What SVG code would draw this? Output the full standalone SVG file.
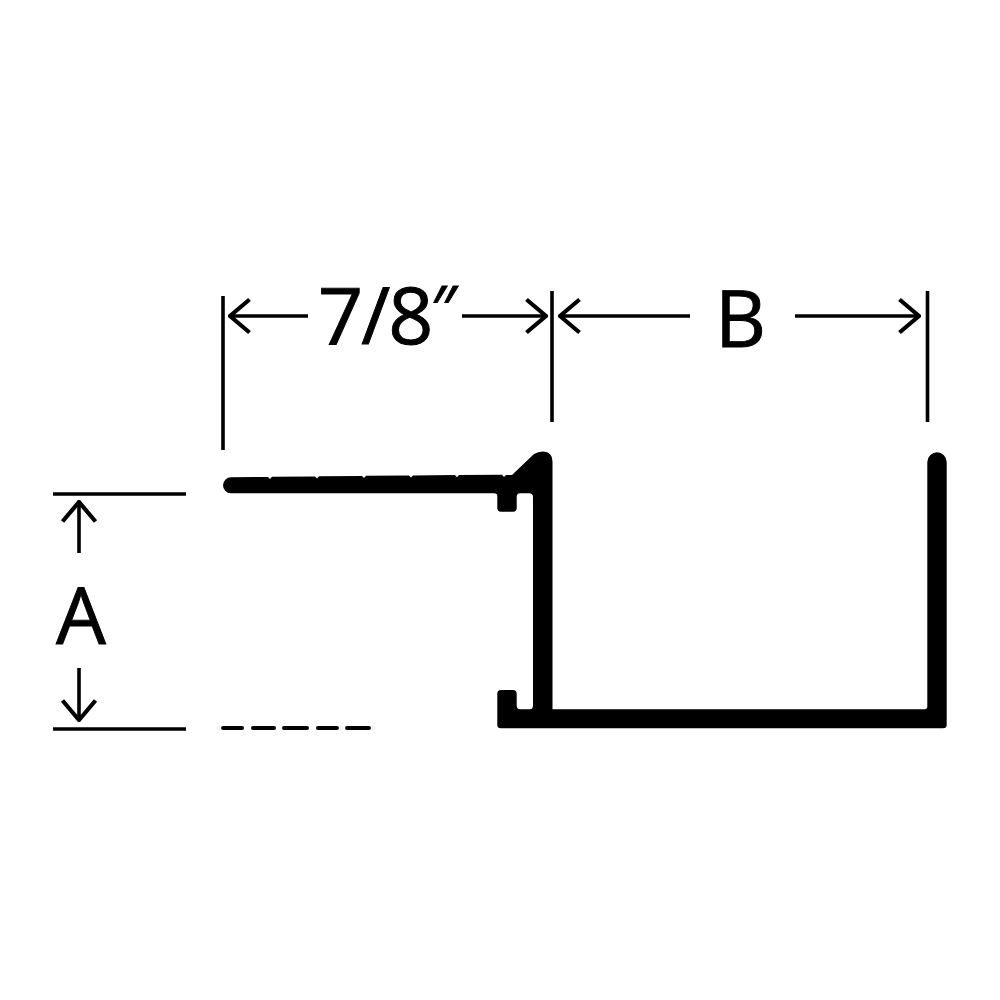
<svg xmlns="http://www.w3.org/2000/svg" width="1000" height="1000" viewBox="0 0 1000 1000">
<defs>
<style>
.dim{fill:none;stroke:#000;stroke-width:3.6}
.dash{fill:none;stroke:#000;stroke-width:4;stroke-linecap:round}
.lbl{font-family:"Open Sans","Noto Sans",sans-serif;font-size:79px;fill:#000;stroke:#000;stroke-width:0.9}
</style>
<marker id="head" viewBox="-22 -19 24 38" refX="0" refY="0" markerUnits="userSpaceOnUse" markerWidth="24" markerHeight="38" orient="auto-start-reverse">
<path d="M-19.5,-16.5 L0,0 L-19.5,16.5" fill="none" stroke="#000" stroke-width="4.2"/>
</marker>
</defs>
<rect width="1000" height="1000" fill="#fff"/>
<g id="profile">
<path fill="#000" d="M231,477.3 L268,476.9 L270,479 L272,476.8 L315,476.4 L317,478.5 L319,476.3 L362,475.9 L364,478 L366,475.8 L409,475.5 L411,477.6 L413,475.4 L455,475.1 L457,477.2 L459,475 L502,474.8 L504,477 L506,474.9 L512,474.9 L534,454 Q538,451.5 543,451.5 Q552.5,452 552.5,461.5 L552.5,709.3 L925,709.3 Q927.3,709 927.3,707 L927.3,462 A9.7,9.7 0 0 1 946.7,462 L946.7,725 Q946.7,728.3 943,728.3 L501,728.3 Q497.3,728.3 497.3,725 L497.3,693.5 Q497.3,690 501,690 L513,690 Q516.7,690 516.7,693.5 L516.7,705 Q516.7,709.3 520,709.3 L530,709.3 Q533,709.3 533,705 L533,497 Q533,493.3 529,493.3 L520,493.3 Q516.7,493.3 516.7,497 L516.7,508 Q516.7,511.7 513,511.7 L501,511.7 Q497.3,511.7 497.3,508 L497.3,496 Q497.3,493.3 494,493.3 L231,493.3 A8,8 0 0 1 231,477.3 Z"/>
</g>
<g id="connectors">
<path class="dim" d="M223,296 V450"/>
<path class="dim" d="M552,291 V422"/>
<path class="dim" d="M927.5,291 V422"/>
<path class="dim" d="M53,494 H186"/>
<path class="dim" d="M53,729 H186"/>
<path class="dash" d="M223,728 H242 M253,728 H274 M284,728 H307 M318,728 H337 M347,728 H369"/>
<path class="dim" marker-end="url(#head)" d="M308,316 H230"/>
<path class="dim" marker-end="url(#head)" d="M462,316 H546"/>
<path class="dim" marker-end="url(#head)" d="M690,316 H560"/>
<path class="dim" marker-end="url(#head)" d="M795,316 H919"/>
<path class="dim" marker-end="url(#head)" d="M79,553 V502"/>
<path class="dim" marker-end="url(#head)" d="M79,668 V720"/>
</g>
<g id="label-top"><text class="lbl" x="318" y="344" letter-spacing="-2">7/8<tspan font-size="64" dx="0" dy="-12">″</tspan></text></g>
<g id="label-b"><text class="lbl" x="715" y="347">B</text></g>
<g id="label-a"><text class="lbl" x="56" y="644">A</text></g>
</svg>
